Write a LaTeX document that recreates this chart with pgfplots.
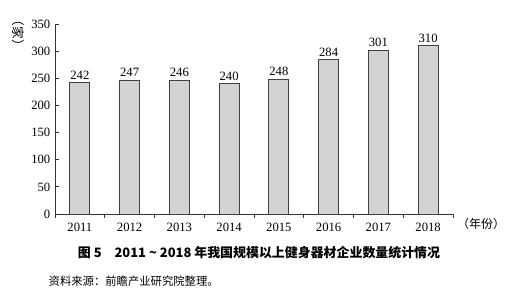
\documentclass[border=0pt]{standalone}
\usepackage{pgfplots}
\pgfplotsset{compat=1.18}
\usepackage{fontspec}
\setmainfont{Liberation Serif}
\newfontfamily\cjk{Noto Sans CJK SC}
\definecolor{barfill}{HTML}{D3D3D3}
\begin{document}
\begin{tikzpicture}[x=0.75pt,y=0.75pt]
\useasboundingbox (0,0) rectangle (530,296);
\begin{axis}[
  at={(41.25pt,61.5pt)}, anchor=south west,
  scale only axis, width=298.5pt, height=142.5pt,
  xmin=-0.5, xmax=7.5, ymin=0, ymax=350,
  axis x line*=bottom, axis y line*=left,
  axis line style={black!80, line width=0.6pt},
  xtick={0,...,7},
  xticklabels={2011,2012,2013,2014,2015,2016,2017,2018},
  major x tick style={draw=none},
  minor xtick={-0.5,0.5,...,7.5},
  minor tick length=3pt,
  ytick={0,50,...,350},
  major tick length=3pt,
  tick align=inside,
  tick style={black!80, line width=0.6pt},
  tick label style={font=\fontsize{9.5}{11}\selectfont},
  /pgf/number format/assume math mode=true,
  ybar, bar width=15pt,
  nodes near coords,
  nodes near coords style={font=\fontsize{9.5}{11}\selectfont, yshift=-1pt},
  clip=false,
]
\addplot[fill=barfill, draw=black!75, line width=0.6pt] coordinates {
(0,242) (1,247) (2,246) (3,240) (4,248) (5,284) (6,301) (7,310)};
\end{axis}
\node[rotate=-90, font=\cjk\fontsize{9.5}{11}\selectfont] at (18,263) {（家）};
\node[font=\cjk\fontsize{9}{11}\selectfont] at (481,72) {（年份）};
\node[font=\cjk\bfseries\fontsize{9.7}{11}\selectfont] at (259,43) {图 5\quad 2011 \textasciitilde\ 2018 年我国规模以上健身器材企业数量统计情况};
\node[anchor=west, font=\cjk\fontsize{8.5}{10}\selectfont] at (44,15) {资料来源：前瞻产业研究院整理。};
\end{tikzpicture}
\end{document}
